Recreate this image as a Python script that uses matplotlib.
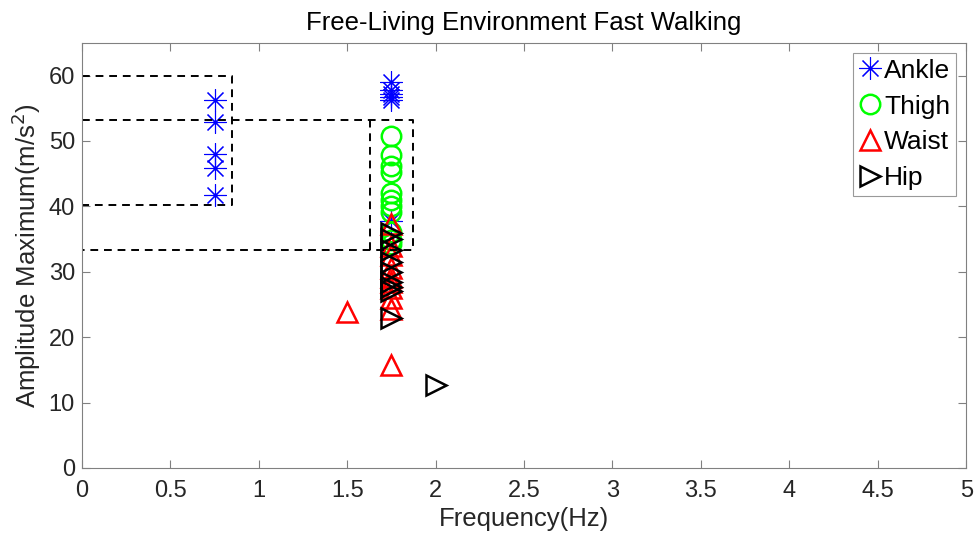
import matplotlib
matplotlib.use('Agg')
import matplotlib.pyplot as plt
from matplotlib.lines import Line2D

plt.rcParams['font.family'] = ['Liberation Sans', 'DejaVu Sans']

# values
ankle_x = [0.75, 0.75, 0.75, 0.75, 0.75, 1.75, 1.75, 1.75, 1.75, 1.75, 1.75]
ankle_y = [56.3, 52.9, 48.0, 45.8, 41.8, 59.0, 57.8, 56.8, 56.3, 57.2, 37.7]

thigh_x = [1.75] * 11
thigh_y = [50.8, 47.9, 46.1, 45.3, 42.1, 41.0, 40.0, 39.2, 36.1, 34.9, 34.3]

waist_x = [1.75, 1.75, 1.75, 1.75, 1.75, 1.75, 1.75, 1.75, 1.75, 1.5, 1.75]
waist_y = [37.3, 34.0, 32.5, 30.5, 29.2, 28.5, 27.5, 26.0, 24.3, 23.8, 15.8]

hip_x = [1.75, 1.75, 1.75, 1.75, 1.75, 1.75, 1.75, 1.75, 1.75, 2.0]
hip_y = [36.0, 35.0, 33.4, 31.5, 30.0, 28.5, 27.7, 27.0, 23.0, 12.7]

# dashed boxes (x0, x1, y0, y1)
box1 = (0.0, 0.85, 40.2, 60.0)
box2 = (0.0, 1.87, 33.3, 53.2)
box2_inner_x = 1.63

txt = '#262626'
spine = '#808080'

fig = plt.figure(figsize=(9.75, 5.36), dpi=100)
ax = fig.add_axes([0.084, 0.127, 0.907, 0.793])

ast = (8, 2, 0)
ax.plot(ankle_x, ankle_y, linestyle='none', marker=ast, markersize=16,
        markeredgecolor='blue', markeredgewidth=0.8)
ax.plot(ankle_x, ankle_y, linestyle='none', marker='.', markersize=3, color='blue')
ax.plot(thigh_x, thigh_y, linestyle='none', marker='o', markersize=14,
        markerfacecolor='none', markeredgecolor=(0, 1, 0), markeredgewidth=1.8)
ax.plot(waist_x, waist_y, linestyle='none', marker='^', markersize=15,
        markerfacecolor='none', markeredgecolor='red', markeredgewidth=1.8)
ax.plot(hip_x, hip_y, linestyle='none', marker='>', markersize=15,
        markerfacecolor='none', markeredgecolor='black', markeredgewidth=1.8)

dash = dict(color='black', linestyle=(0, (4, 3)), linewidth=1.4)
x0, x1, y0, y1 = box1
ax.plot([x0, x1, x1, x0], [y1, y1, y0, y0], **dash)
x0, x1, y0, y1 = box2
ax.plot([x0, x1, x1, x0], [y1, y1, y0, y0], **dash)
ax.plot([box2_inner_x, box2_inner_x], [y0, y1], **dash)

ax.set_xlim(0, 5)
ax.set_ylim(0, 65)
ax.set_xticks([0, 0.5, 1, 1.5, 2, 2.5, 3, 3.5, 4, 4.5, 5])
ax.set_xticklabels(['0', '0.5', '1', '1.5', '2', '2.5', '3', '3.5', '4', '4.5', '5'])
ax.set_yticks([0, 10, 20, 30, 40, 50, 60])
ax.tick_params(direction='in', labelsize=17, labelcolor=txt, color=spine,
               top=True, right=True, length=6, width=0.8)
ax.tick_params(axis='x', pad=9)
ax.tick_params(axis='y', pad=5)
for s in ax.spines.values():
    s.set_color(spine)
    s.set_linewidth(0.8)

ax.set_xlabel('Frequency(Hz)', fontsize=18.5, color=txt, labelpad=3)
ax.set_ylabel('Amplitude Maximum(m/s$^2$)', fontsize=18.5, color=txt, labelpad=4)
ax.set_title('Free-Living Environment Fast Walking', fontsize=18.5, pad=9)

handles = [
    Line2D([], [], linestyle='none', marker=ast, markersize=16, markeredgecolor='blue', markeredgewidth=0.8),
    Line2D([], [], linestyle='none', marker='o', markersize=14, markerfacecolor='none',
           markeredgecolor=(0, 1, 0), markeredgewidth=1.8),
    Line2D([], [], linestyle='none', marker='^', markersize=15, markerfacecolor='none',
           markeredgecolor='red', markeredgewidth=1.8),
    Line2D([], [], linestyle='none', marker='>', markersize=15, markerfacecolor='none',
           markeredgecolor='black', markeredgewidth=1.8),
]
leg = ax.legend(handles, ['Ankle', 'Thigh', 'Waist', 'Hip'], loc='upper right',
                fontsize=19, handlelength=0.9, handletextpad=0.1, borderpad=0.2,
                labelspacing=0.45, fancybox=False, edgecolor=spine,
                borderaxespad=0.4)
leg.get_frame().set_linewidth(0.8)

fig.savefig('out.png', dpi=100)
